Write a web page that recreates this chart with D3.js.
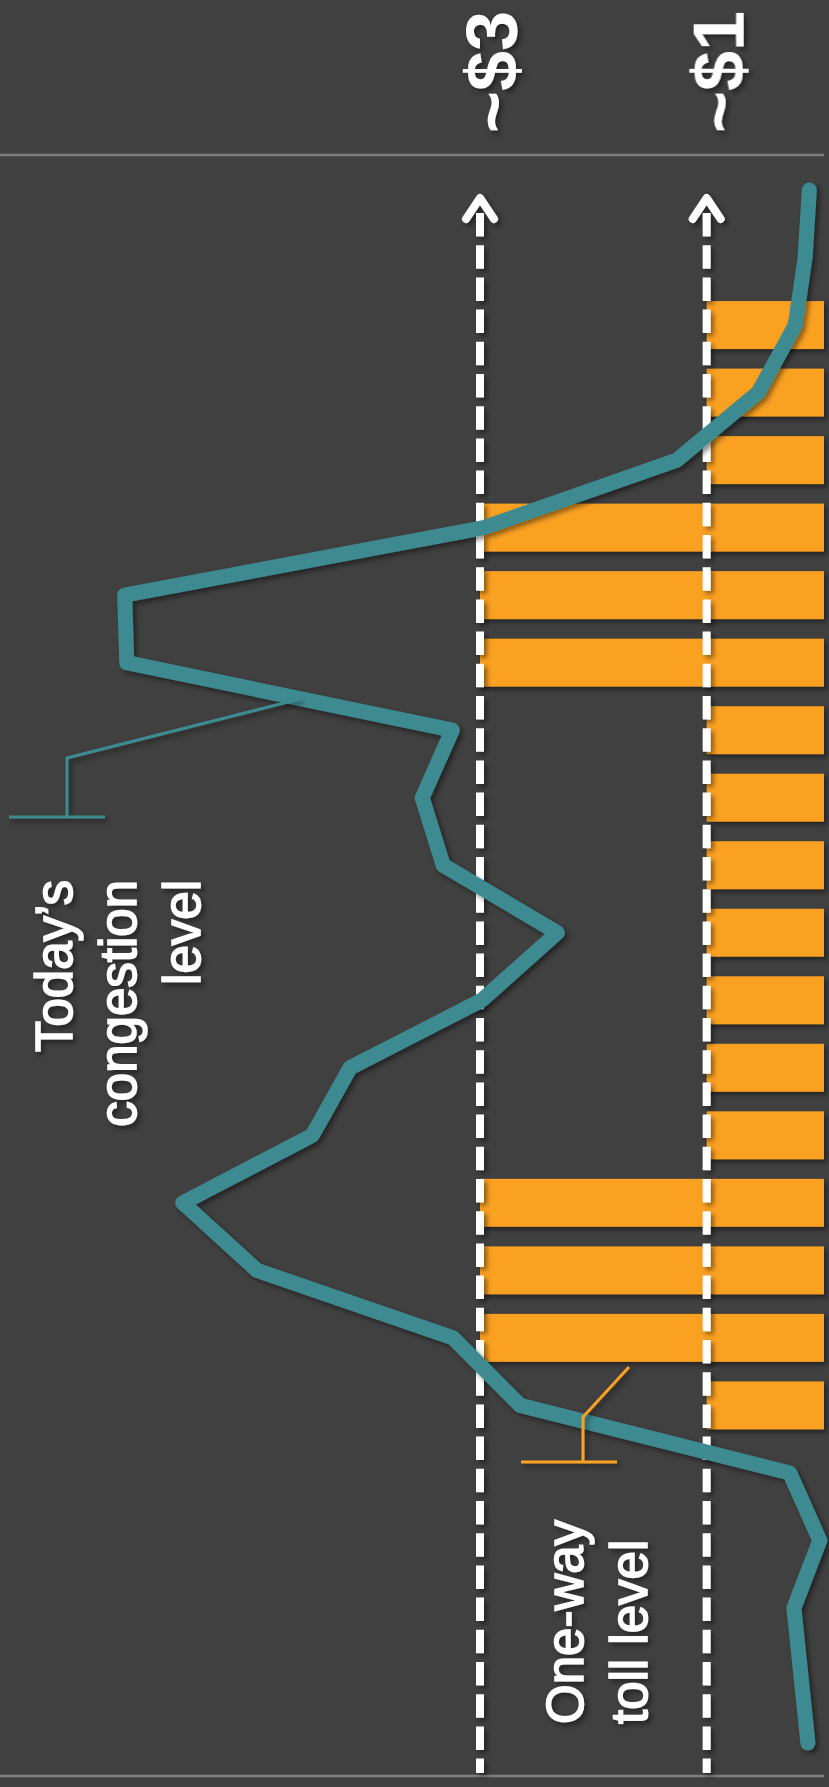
<!DOCTYPE html>
<html>
<head>
<meta charset="utf-8">
<script src="https://cdn.jsdelivr.net/npm/d3@7"></script>
<style>
  html, body { margin: 0; padding: 0; background: #404040; }
  svg { display: block; }
  text { font-family: "Liberation Sans", Arial, sans-serif; fill: #fff; }
</style>
</head>
<body>
<svg id="chart" width="829" height="1787"></svg>
<script>
// hourly slots, top to bottom
const hours = ["1 AM", "2 AM", "3 AM", "4 AM", "5 AM", "6 AM", "7 AM", "8 AM", "9 AM", "10 AM", "11 AM", "12 PM",
    "1 PM", "2 PM", "3 PM", "4 PM", "5 PM", "6 PM", "7 PM", "8 PM", "9 PM", "10 PM", "11 PM", "12 AM"]

// today's congestion (index, 0-100)
const congestion = [2.1, 2.7, 4.1, 9.4, 21.0, 48.6, 99.9, 99.6, 53.1, 57.4, 54.4, 38.1,
    48.9, 67.7, 73.1, 91.6, 81.0, 53.0, 43.4, 4.9, 0.6, 4.3, 3.3, 2.3]

// one-way toll, dollars
const tollHours = ["3 AM", "4 AM", "5 AM", "6 AM", "7 AM", "8 AM", "9 AM", "10 AM", "11 AM", "12 PM",
    "1 PM", "2 PM", "3 PM", "4 PM", "5 PM", "6 PM", "7 PM"]
const tollDollars = [1, 1, 1, 3, 3, 3, 1, 1, 1, 1, 1, 1, 1, 3, 3, 3, 1]

const priceLevels = [3, 1]
const priceLabels = ["~$3", "~$1"]

const svg = d3.select("#chart")
const W = 829, H = 1787
const right = 824

const teal = "#3e8b90"
const orange = "#fba124"

svg.append("rect").attr("width", W).attr("height", H).attr("fill", "#404040")

const defs = svg.append("defs")
defs.append("filter").attr("id", "shadow")
    .attr("x", "-20%").attr("y", "-20%").attr("width", "140%").attr("height", "140%")
    .append("feDropShadow")
    .attr("dx", 3).attr("dy", 3).attr("stdDeviation", 2.5)
    .attr("flood-color", "#000").attr("flood-opacity", 0.45)

const y = d3.scalePoint().domain(hours).range([190, 1743])
const barH = y.step() * 0.71

const xToll = d3.scaleLinear().domain([0, 3]).range([820, 480])
const xCong = d3.scaleLinear().domain([0, 100]).range([824, 124])

// rules
svg.append("g").selectAll("line")
    .data([155, 1776])
    .join("line")
    .attr("x1", 0).attr("x2", right)
    .attr("y1", d => d).attr("y2", d => d)
    .attr("stroke", "#7f7f7f").attr("stroke-width", 2.5)

// toll bars
const tolls = tollHours.map((h, i) => ({ hour: h, value: tollDollars[i] }))
svg.append("g").attr("class", "bars")
    .attr("filter", "url(#shadow)")
    .selectAll("rect")
    .data(tolls)
    .join("rect")
    .attr("x", d => xToll(d.value))
    .attr("y", d => y(d.hour) - barH / 2)
    .attr("width", d => right - xToll(d.value))
    .attr("height", barH)
    .attr("fill", orange)

// price reference lines with arrows
const refs = svg.append("g").attr("filter", "url(#shadow)")
refs.selectAll("line")
    .data(priceLevels)
    .join("line")
    .attr("x1", d => xToll(d)).attr("x2", d => xToll(d))
    .attr("y1", 213).attr("y2", 1773)
    .attr("stroke", "#fff").attr("stroke-width", 8)
    .attr("stroke-dasharray", "23.5 8.7")
refs.selectAll("path")
    .data(priceLevels)
    .join("path")
    .attr("d", d => `M${xToll(d) - 14},${219} L${xToll(d)},${198} L${xToll(d) + 14},${219}`)
    .attr("fill", "none").attr("stroke", "#fff").attr("stroke-width", 8)
    .attr("stroke-linecap", "round").attr("stroke-linejoin", "round")

// price labels
svg.append("g").attr("filter", "url(#shadow)")
    .selectAll("text")
    .data(priceLevels)
    .join("text")
    .attr("transform", d => `translate(${xToll(d) + 37},72) rotate(-90)`)
    .attr("text-anchor", "middle")
    .style("font-size", "72px")
    .style("font-weight", "bold")
    .text((d, i) => priceLabels[i])

// congestion line
const line = d3.line()
    .x(d => xCong(d))
    .y((d, i) => y(hours[i]))

svg.append("path")
    .datum(congestion)
    .attr("d", line)
    .attr("fill", "none")
    .attr("stroke", teal).attr("stroke-width", 15)
    .attr("stroke-linejoin", "round").attr("stroke-linecap", "round")
    .attr("filter", "url(#shadow)")

// annotations
const notes = svg.append("g").attr("filter", "url(#shadow)")

notes.append("path")
    .attr("d", "M300,699 L67,758 L67,817 M9,817 L105,817")
    .attr("fill", "none").attr("stroke", teal).attr("stroke-width", 3)

notes.append("path")
    .attr("d", "M629,1367 L583,1417 L583,1462 M521,1462 L617,1462")
    .attr("fill", "none").attr("stroke", orange).attr("stroke-width", 3)

const congNote = notes.append("text")
    .attr("transform", "translate(0,880) rotate(-90)")
    .attr("text-anchor", "end")
    .style("font-size", "51px")
    .attr("stroke", "#fff").attr("stroke-width", 1.6)
congNote.selectAll("tspan")
    .data(["Today\u2019s", "congestion", "level"])
    .join("tspan")
    .attr("x", 0)
    .attr("y", (d, i) => 72 + i * 64)
    .text(d => d)

const tollNote = notes.append("text")
    .attr("transform", "translate(0,1724) rotate(-90)")
    .attr("text-anchor", "start")
    .style("font-size", "51px")
    .attr("stroke", "#fff").attr("stroke-width", 1.6)
tollNote.selectAll("tspan")
    .data(["One-way", "toll level"])
    .join("tspan")
    .attr("x", 0)
    .attr("y", (d, i) => 583 + i * 64)
    .text(d => d)
</script>
</body>
</html>
